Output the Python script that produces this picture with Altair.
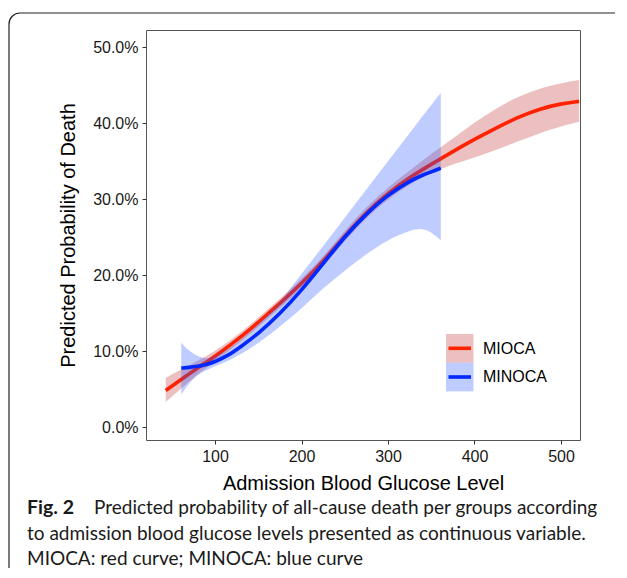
import altair as alt
import pandas as pd

# ---- data (percent) ----
mioca_x = [43, 60, 80, 100, 120, 140, 160, 180, 200, 225, 250, 275, 300, 325, 350, 375, 400, 425, 450, 475, 500, 521]
mioca_y = [4.8, 6.2, 7.8, 9.3, 11.0, 12.8, 14.8, 16.8, 18.9, 21.8, 25.2, 28.3, 30.8, 32.9, 34.6, 36.3, 37.9, 39.4, 40.8, 41.9, 42.6, 42.9]
mioca_hi = [6.5, 7.5, 8.7, 10.0, 11.6, 13.4, 15.4, 17.4, 19.5, 22.4, 25.9, 29.0, 31.6, 33.8, 36.0, 38.0, 40.1, 42.0, 43.5, 44.6, 45.3, 45.7]
mioca_lo = [3.3, 5.0, 7.0, 8.6, 10.4, 12.2, 14.2, 16.2, 18.3, 21.2, 24.5, 27.6, 30.0, 32.0, 33.5, 34.6, 35.5, 36.5, 37.6, 38.7, 39.6, 40.2]

minoca_x = [61, 70, 80, 90, 100, 115, 130, 150, 175, 200, 225, 250, 275, 300, 325, 340, 350, 361]
minoca_y = [7.75, 7.85, 8.0, 8.2, 8.6, 9.4, 10.6, 12.3, 14.9, 18.0, 21.5, 25.1, 28.1, 30.6, 32.4, 33.2, 33.6, 34.1]
minoca_hi = [11.1, 10.0, 9.3, 9.0, 9.3, 10.2, 11.5, 13.5, 16.4, 20.2, 23.8, 27.6, 31.3, 35.0, 38.7, 41.0, 42.4, 44.0]
minoca_lo = [4.3, 5.8, 6.9, 7.5, 8.0, 8.7, 9.6, 11.0, 13.2, 15.6, 18.3, 20.6, 22.8, 24.7, 25.9, 26.2, 25.7, 24.6]

series_names = ["MIOCA", "MINOCA"]
line_colors = ["#FF2200", "#0028FF"]
band_colors = ["#C03030", "#2A55FF"]

x_ticks = [100, 200, 300, 400, 500]
y_ticks = [0.0, 0.1, 0.2, 0.3, 0.4, 0.5]

x_title = "Admission Blood Glucose Level"
y_title = "Predicted Probability of Death"
caption_bold = "Fig. 2"
caption_lines = [
    "Predicted probability of all-cause death per groups according",
    "to admission blood glucose levels presented as continuous variable.",
    "MIOCA: red curve; MINOCA: blue curve",
]


def frame(name, xs, ys, hi, lo):
    return pd.DataFrame({
        "series": name,
        "glucose": xs,
        "p": [v / 100 for v in ys],
        "hi": [v / 100 for v in hi],
        "lo": [v / 100 for v in lo],
    })


df_r = frame("MIOCA", mioca_x, mioca_y, mioca_hi, mioca_lo)
df_b = frame("MINOCA", minoca_x, minoca_y, minoca_hi, minoca_lo)

W, H = 434, 410
xscale = alt.Scale(domain=[20.2, 522], nice=False, zero=False)
yscale = alt.Scale(domain=[-0.0171, 0.523], nice=False, zero=False)

xaxis = alt.Axis(values=x_ticks, title=x_title, grid=False, domain=False,
                 tickSize=4, tickColor="#333333", labelFontSize=16, labelColor="#1a1a1a",
                 labelFont="Liberation Sans", labelPadding=4, titleFont="Liberation Sans",
                 titleFontSize=20, titleFontWeight="normal", titleColor="#000000",
                 titlePadding=9, labelFlush=False)
yaxis = alt.Axis(values=y_ticks, format=".1%", title=y_title, grid=False, domain=False,
                 tickSize=4, tickColor="#333333", labelFontSize=16, labelColor="#1a1a1a",
                 labelFont="Liberation Sans", labelPadding=4, titleFont="Liberation Sans",
                 titleFontSize=20, titleFontWeight="normal", titleColor="#000000",
                 titlePadding=14, labelFlush=False)


def band(df, color):
    return alt.Chart(df).mark_area(color=color, opacity=0.3, interpolate="basis").encode(
        x=alt.X("glucose:Q", scale=xscale, axis=xaxis),
        y=alt.Y("lo:Q", scale=yscale, axis=yaxis),
        y2="hi:Q",
    )


def curve(df, color):
    return alt.Chart(df).mark_line(color=color, strokeWidth=3.6, interpolate="basis").encode(
        x=alt.X("glucose:Q", scale=xscale, axis=xaxis),
        y=alt.Y("p:Q", scale=yscale, axis=yaxis),
    )


layers = [band(df_r, band_colors[0]), curve(df_r, line_colors[0]),
          band(df_b, band_colors[1]), curve(df_b, line_colors[1])]

# legend (drawn manually, key = ribbon square with line)
for i, (name, lc, bc) in enumerate(zip(series_names, line_colors, band_colors)):
    d = pd.DataFrame({"series": [name]})
    top = 304 + i * 28.7
    layers.append(alt.Chart(d).mark_rect(color=bc, opacity=0.3).encode(
        x=alt.value(300), x2=alt.value(327.5), y=alt.value(top), y2=alt.value(top + 28.7)))
    layers.append(alt.Chart(d).mark_rule(color=lc, strokeWidth=3.6).encode(
        x=alt.value(302.5), x2=alt.value(325), y=alt.value(top + 14.3)))
    layers.append(alt.Chart(d).mark_text(align="left", baseline="middle", fontSize=16,
                                         font="Liberation Sans", color="#000000").encode(
        x=alt.value(337), y=alt.value(top + 14.5), text="series:N"))

# outer rounded frame
layers.append(alt.Chart(pd.DataFrame({"k": [0]})).mark_rect(
    fill=None, stroke="#222222", strokeWidth=1.2, cornerRadius=11).encode(
    x=alt.value(-137), x2=alt.value(700), y=alt.value(-17), y2=alt.value(700)))

# caption
cap_y = [478, 504, 529]
layers.append(alt.Chart(pd.DataFrame({"t": [caption_bold]})).mark_text(
    align="left", baseline="middle", fontSize=19.5, font="Lato", fontWeight="bold", color="#1a1a1a").encode(
    x=alt.value(-119), y=alt.value(cap_y[0]), text="t:N"))
for i, line in enumerate(caption_lines):
    layers.append(alt.Chart(pd.DataFrame({"t": [line]})).mark_text(
        align="left", baseline="middle", fontSize=19, font="Lato", color="#1a1a1a").encode(
        x=alt.value(-52 if i == 0 else -119), y=alt.value(cap_y[i]), text="t:N"))

chart = alt.layer(*layers).properties(
    width=W, height=H,
    autosize=alt.AutoSizeParams(type="none"),
    padding={"left": 138, "top": 22, "right": 35, "bottom": 128},
).configure_view(stroke="#555555", strokeWidth=1)

chart.save("out.html", embed_options={"renderer": "svg", "actions": False})
